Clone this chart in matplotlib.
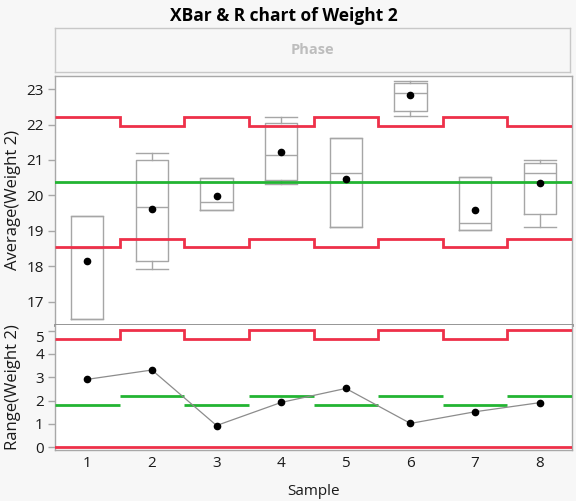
import numpy as np
import matplotlib
matplotlib.use("Agg")
import matplotlib.pyplot as plt

# ---- data ----
samples = [1, 2, 3, 4, 5, 6, 7, 8]
box_min = [16.51, 17.91, 19.60, 20.31, 19.10, 22.23, 19.01, 19.11]
box_q1 = [16.51, 18.15, 19.60, 20.42, 19.10, 22.37, 19.01, 19.46]
box_med = [18.52, 19.66, 19.82, 21.14, 20.63, 22.90, 19.23, 20.62]
box_q3 = [19.42, 20.99, 20.50, 22.03, 21.61, 23.16, 20.51, 20.90]
box_max = [19.42, 21.21, 20.50, 22.21, 21.61, 23.22, 20.51, 21.00]
sample_means = [18.15, 19.61, 19.98, 21.23, 20.45, 22.83, 19.59, 20.35]
xbar_ucl = [22.21, 21.97, 22.21, 21.97, 22.21, 21.97, 22.21, 21.97]
xbar_center = 20.38
xbar_lcl = [18.53, 18.77, 18.53, 18.77, 18.53, 18.77, 18.53, 18.77]

ranges = [2.91, 3.31, 0.93, 1.92, 2.52, 1.02, 1.52, 1.91]
r_ucl = [4.65, 5.01, 4.65, 5.01, 4.65, 5.01, 4.65, 5.01]
r_center = [1.82, 2.19, 1.82, 2.19, 1.82, 2.19, 1.82, 2.19]
r_lcl = 0.0

title = "XBar & R chart of Weight 2"
phase_label = "Phase"
ylabel_top = "Average(Weight 2)"
ylabel_bottom = "Range(Weight 2)"
xlabel = "Sample"

# ---- style ----
RED = "#EE3049"
GREEN = "#22B432"
BOXC = "#A6A6A6"
SPINE = "#A8A8A8"
BG = "#F7F7F7"
TXT = "#1A1A1A"
plt.rcParams["font.family"] = ["Open Sans", "DejaVu Sans"]

W, H = 576, 501
fig = plt.figure(figsize=(W / 100, H / 100), dpi=100, facecolor=BG)

def frac(x0, y0, x1, y1):
    return [x0 / W, 1 - y1 / H, (x1 - x0) / W, (y1 - y0) / H]

ax1 = fig.add_axes(frac(55, 76, 572, 325))
ax2 = fig.add_axes(frac(55, 325, 572, 450))
axp = fig.add_axes(frac(55, 28, 570, 72))

# phase box
axp.set_facecolor(BG)
axp.set_xticks([]); axp.set_yticks([])
for s in axp.spines.values():
    s.set_color("#C8C8C8"); s.set_linewidth(1)
axp.text(0.5, 0.5, phase_label, ha="center", va="center", color="#BDBDBD",
         fontsize=10.5, fontweight="bold", transform=axp.transAxes)

fig.text(284 / W, 1 - 16 / H, title, ha="center", va="center",
         fontsize=12.5, fontweight="bold", color="black")

edges = np.arange(0.5, len(samples) + 1, 1.0)
xs = np.array(samples, dtype=float)

# ---- top: XBar with boxes ----
stats = []
for i in range(len(samples)):
    stats.append(dict(whislo=box_min[i], q1=box_q1[i], med=box_med[i],
                      q3=box_q3[i], whishi=box_max[i], fliers=[]))
lp = dict(color=BOXC, linewidth=1)
ax1.bxp(stats, positions=samples, widths=0.5, capwidths=0.5,
        boxprops=lp, whiskerprops=lp, capprops=lp, medianprops=lp,
        showfliers=False, manage_ticks=False, zorder=2)
ax1.stairs(xbar_ucl, edges, baseline=None, color=RED, linewidth=2, zorder=3)
ax1.stairs(xbar_lcl, edges, baseline=None, color=RED, linewidth=2, zorder=3)
ax1.axhline(xbar_center, color=GREEN, linewidth=2, zorder=3)
ax1.plot(xs, sample_means, "o", color="black", markersize=4.5, zorder=4)

ax1.set_xlim(0.5, 8.5)
ax1.set_ylim(16.34, 23.37)
ax1.set_yticks([17, 18, 19, 20, 21, 22, 23])
ax1.set_xticks([])
ax1.set_ylabel(ylabel_top, fontsize=12, color=TXT)

# ---- bottom: Range ----
ax2.stairs(r_ucl, edges, baseline=None, color=RED, linewidth=2, zorder=3)
ax2.axhline(r_lcl, color=RED, linewidth=2, zorder=3)
ax2.hlines(r_center, xs - 0.5, xs + 0.5, color=GREEN, linewidth=2, zorder=3)
ax2.plot(xs, ranges, "-", color="#8C8C8C", linewidth=0.9, zorder=4)
ax2.plot(xs, ranges, "o", color="black", markersize=4.5, zorder=5)
ax2.set_xlim(0.5, 8.5)
ax2.set_ylim(-0.12, 5.24)
ax2.set_yticks([0, 1, 2, 3, 4, 5])
ax2.set_xticks(samples)
ax2.set_ylabel(ylabel_bottom, fontsize=12, color=TXT)
ax2.set_xlabel(xlabel, fontsize=11, color=TXT, labelpad=10)

for ax in (ax1, ax2):
    ax.set_facecolor("white")
    for s in ax.spines.values():
        s.set_color(SPINE); s.set_linewidth(1)
    ax.tick_params(axis="both", colors=SPINE, labelcolor=TXT, labelsize=11,
                   length=5, width=1, pad=3)
    ax.tick_params(axis="x", length=0, pad=4)
ax1.spines["bottom"].set_color("#8C8C8C")
ax1.spines["bottom"].set_linewidth(2)
ax2.spines["top"].set_visible(False)
ax1.yaxis.set_label_coords(-0.066, 0.5)
ax2.yaxis.set_label_coords(-0.066, 0.5)

# the top range tick label sits below its tick, as in the reference
ax2.get_yticklabels()[-1].set_verticalalignment("top")

fig.savefig("out.png", dpi=100, facecolor=BG)
